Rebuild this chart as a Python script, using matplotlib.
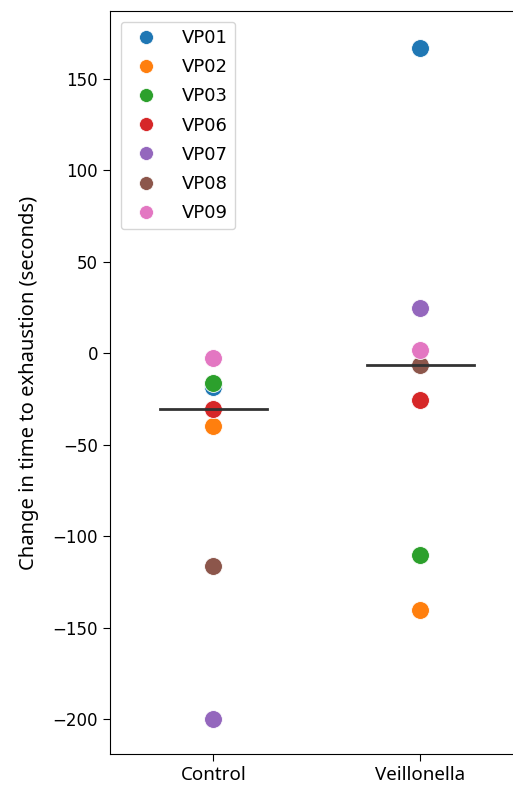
import matplotlib.pyplot as plt
from matplotlib.lines import Line2D
import numpy as np

# data
participants = ['VP01', 'VP02', 'VP03', 'VP06', 'VP07', 'VP08', 'VP09']
groups = ['Control', 'Veillonella']
control = [-18.5, -40, -16.5, -30.5, -200, -116.5, -2.5]
veillonella = [167, -140.5, -110.5, -25.5, 24.5, -6.5, 1.5]
colors = ['#1f77b4', '#ff7f0e', '#2ca02c', '#d62728', '#9467bd', '#8c564b', '#e377c2']

fig = plt.figure(figsize=(5.13, 7.9), dpi=100)
ax = fig.add_axes([0.2144, 0.0456, 0.807, 0.9405])

for i, vals in enumerate([control, veillonella]):
    for p, v, c in zip(participants, vals, colors):
        ax.scatter(i, v, s=165, color=c, edgecolor='white', linewidth=0.6, zorder=3)
    med = np.median(vals)
    ax.plot([i - 0.26, i + 0.26], [med, med], color='#333333', lw=2, zorder=4)

# right edge of the axes is cut off in the original
ax.spines['right'].set_visible(False)

ax.set_xticks([0, 1])
ax.set_xticklabels(groups, family='Noto Sans', fontsize=13.5)
ax.set_xlim(-0.5, 1.5)
ax.set_ylim(-219, 187)
ax.set_yticks([-200, -150, -100, -50, 0, 50, 100, 150])
ax.tick_params(axis='y', labelsize=12)
ax.tick_params(length=5)
ax.set_ylabel('Change in time to exhaustion (seconds)', family='Noto Sans',
              fontsize=14.5, labelpad=10)

handles = [Line2D([], [], marker='o', ls='', color=c, markersize=10,
                  markeredgecolor='white', markeredgewidth=0.5) for c in colors]
ax.legend(handles, participants, loc='upper left', fontsize=13,
          handletextpad=1.0, labelspacing=0.62, borderaxespad=0.6)

fig.savefig('out.png', dpi=100)
